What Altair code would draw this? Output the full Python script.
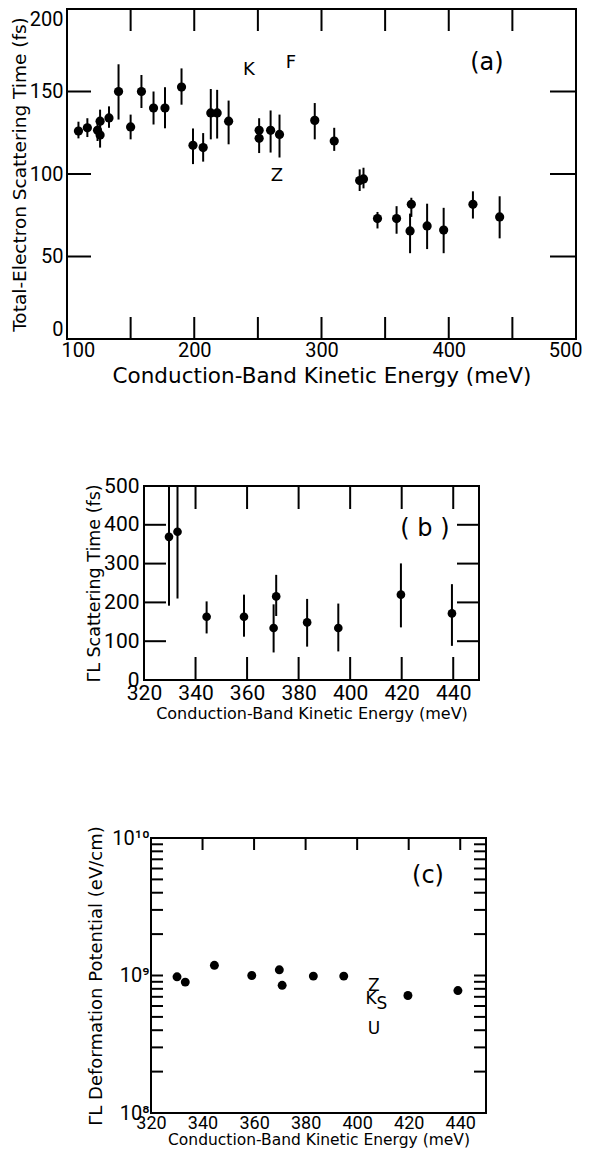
import altair as alt
import pandas as pd

# ---------------- data ----------------
# (a) total-electron scattering time vs conduction-band kinetic energy
a_energy = [109, 116, 124, 126, 126, 133, 140.5, 150, 158.5, 168, 177, 190, 199, 207, 213,
            218, 227, 251, 251, 260, 267, 294.7, 310, 330, 333, 344, 359, 370.6, 369.6,
            383, 396, 419, 440]
a_tau = [126, 128, 126.5, 123.6, 132, 134, 150, 128.5, 150, 140, 140, 152.7, 117.4, 116, 137,
         137, 132, 126.5, 121.6, 126.5, 124, 132.5, 120, 96, 97, 73, 73, 81.6, 65.5,
         68.5, 66, 81.6, 74]
a_lo = [121.6, 122.4, 120, 116, 126, 128, 133, 121, 140, 130, 127.7, 142, 106, 107.5, 121,
        121.5, 118, 120, 112.7, 113, 110, 121, 114, 89.7, 91.3, 67, 63.8, 74, 52,
        54.5, 52, 73, 61]
a_hi = [131.7, 133.8, 132, 130, 139, 141, 166.5, 136, 160, 150, 152.6, 164, 127.6, 124.8, 151.5,
        151, 144.5, 133.8, 127, 138.5, 136, 143, 128, 102.8, 103.8, 77, 80.5, 85.6, 76,
        82, 79.5, 89.5, 86.5]
a_note_text = ["K", "F", "Z"]
a_note_x = [243, 276, 265]
a_note_y = [163, 167, 99]
a_tag = ["(a)"]
a_tag_x = [430]
a_tag_y = [167]

# (b) Gamma-L scattering time
b_energy = [329.7, 333, 344.3, 358.8, 370.3, 371.3, 383.3, 395.4, 419.7, 439.5]
b_tau = [369, 382, 163, 163, 134, 215.5, 148.5, 134, 220, 171.6]
b_lo = [191.5, 210, 120, 111.6, 71, 165, 86, 73.7, 135.6, 88]
b_hi = [500, 500, 202.6, 220, 195, 271, 209, 197, 300.5, 247]
b_tag = ["( b )"]
b_tag_x = [429]
b_tag_y = [389]

# (c) Gamma-L deformation potential
c_energy = [330.1, 333.3, 344.6, 359.1, 369.8, 370.9, 383, 394.8, 419.7, 439.1]
c_pot = [0.978e9, 0.895e9, 1.186e9, 1.0e9, 1.1e9, 0.848e9, 0.99e9, 0.99e9, 0.715e9, 0.777e9]
c_note_text = ["Z", "K", "S", "U"]
c_note_x = [406.5, 405.4, 409.6, 406.5]
c_note_y = [0.838e9, 0.673e9, 0.62e9, 0.405e9]
c_tag = ["(c)"]
c_tag_x = [427.5]
c_tag_y = [5.3e9]

# tick values
a_x_ticks = [100, 150, 200, 250, 300, 350, 400, 450, 500]
a_y_ticks = [0, 50, 100, 150, 200]
bc_x_ticks = [320, 340, 360, 380, 400, 420, 440]
b_y_ticks = [0, 100, 200, 300, 400, 500]
c_y_ticks = [m * 10 ** e for e in (8, 9) for m in range(1, 10)] + [1e10]
c_y_ticks = [float(v) for v in c_y_ticks]

LABEL_FONT = "Liberation Sans Narrow, Roboto, sans-serif"
TITLE_FONT = "DejaVu Sans"
TXT_FONT = "DejaVu Sans"


def ax(orient, **kw):
    d = dict(orient=orient, grid=False, domain=False, ticks=False,
             labelFont=LABEL_FONT, labelFontSize=20, labelColor="black",
             titleFont=TITLE_FONT, titleColor="black", titleFontWeight="normal")
    d.update(kw)
    return alt.Axis(**d)


def frame_and_ticks(xs, ys, xt, yt, x0, y0, w, h, top, bottom, left, right):
    """Plot frame plus inward tick marks, positioned by the panel scales."""
    rule = dict(color="black", strokeWidth=2)
    out = [alt.Chart(pd.DataFrame({"z": [0]})).mark_rect(
        fillOpacity=0, stroke="black", strokeWidth=2).encode(
        x=alt.value(x0), x2=alt.value(x0 + w), y=alt.value(y0), y2=alt.value(y0 + h))]
    dx = pd.DataFrame({"t": xt})
    dy = pd.DataFrame({"t": yt})
    if top:
        out.append(alt.Chart(dx).mark_rule(**rule).encode(
            x=alt.X("t:Q", scale=xs, axis=None), y=alt.value(y0), y2=alt.value(y0 + top)))
    if bottom:
        out.append(alt.Chart(dx).mark_rule(**rule).encode(
            x=alt.X("t:Q", scale=xs, axis=None), y=alt.value(y0 + h - bottom), y2=alt.value(y0 + h)))
    if left:
        out.append(alt.Chart(dy).mark_rule(**rule).encode(
            y=alt.Y("t:Q", scale=ys, axis=None), x=alt.value(x0), x2=alt.value(x0 + left)))
    if right:
        out.append(alt.Chart(dy).mark_rule(**rule).encode(
            y=alt.Y("t:Q", scale=ys, axis=None), x=alt.value(x0 + w - right), x2=alt.value(x0 + w)))
    return out


def panel(df_pts, df_bars, notes, tag, xdom, ydom, ylog, xaxis, yaxis, ticks,
          dot, note_size, tag_size, x0, y0, w, h):
    xs = alt.Scale(domain=xdom, range=[x0, x0 + w], nice=False, zero=False)
    if ylog:
        ys = alt.Scale(type="log", domain=ydom, range=[y0 + h, y0], nice=False)
    else:
        ys = alt.Scale(domain=ydom, range=[y0 + h, y0], nice=False, zero=False)
    layers = frame_and_ticks(xs, ys, x0=x0, y0=y0, w=w, h=h, **ticks)
    if df_bars is not None:
        layers.append(alt.Chart(df_bars).mark_rule(color="black", strokeWidth=2).encode(
            x=alt.X("E:Q", scale=xs, axis=None),
            y=alt.Y("lo:Q", scale=ys, axis=None),
            y2="hi:Q",
        ))
    layers.append(alt.Chart(df_pts).mark_circle(size=dot, color="black", opacity=1).encode(
        x=alt.X("E:Q", scale=xs, axis=xaxis),
        y=alt.Y("v:Q", scale=ys, axis=yaxis),
    ))
    if notes is not None:
        layers.append(alt.Chart(notes).mark_text(font=TXT_FONT, fontSize=note_size, color="black").encode(
            x=alt.X("E:Q", scale=xs, axis=None), y=alt.Y("v:Q", scale=ys, axis=None), text="t:N"))
    layers.append(alt.Chart(tag).mark_text(font=TXT_FONT, fontSize=tag_size, color="black").encode(
        x=alt.X("E:Q", scale=xs, axis=None), y=alt.Y("v:Q", scale=ys, axis=None), text="t:N"))
    return alt.layer(*layers).resolve_axis(x="independent", y="independent").properties(
        width=x0 + w, height=y0 + h)


XT = "Conduction-Band Kinetic Energy (meV)"

# ---- panel a
da = pd.DataFrame({"E": a_energy, "v": a_tau, "lo": a_lo, "hi": a_hi})
na = pd.DataFrame({"E": a_note_x, "v": a_note_y, "t": a_note_text})
ta = pd.DataFrame({"E": a_tag_x, "v": a_tag_y, "t": a_tag})
pa = panel(da, da, na, ta, [100, 500], [0, 200], False,
           ax("bottom", values=a_x_ticks, labelExpr="datum.value % 100 == 0 ? datum.label : ''",
              title=XT, titleFontSize=21.5, labelPadding=1, titlePadding=5,
              labelFlush=True, labelFlushOffset=6),
           ax("left", values=a_y_ticks, title="Total-Electron Scattering Time (fs)", titleFontSize=18.5,
              labelPadding=4, titlePadding=0, labelFlush=True),
           dict(xt=a_x_ticks[1:-1], yt=a_y_ticks[1:-1], top=22, bottom=22, left=24, right=26),
           85, 18, 24, 0, 0, 509, 330)

# ---- panel b (plot area inset 77 px from the left edge of panel a)
db = pd.DataFrame({"E": b_energy, "v": b_tau, "lo": b_lo, "hi": b_hi})
tb = pd.DataFrame({"E": b_tag_x, "v": b_tag_y, "t": b_tag})
pb = panel(db, db, None, tb, [320, 450], [0, 500], False,
           ax("bottom", values=bc_x_ticks, title=XT, titleFontSize=16, labelFontSize=21,
              labelPadding=2, titlePadding=2, labelFlush=False),
           ax("left", values=b_y_ticks, title="ΓL Scattering Time (fs)", titleFontSize=17.5,
              labelFontSize=21, labelPadding=5, titlePadding=0, offset=-77),
           dict(xt=bc_x_ticks[1:], yt=b_y_ticks[1:-1], top=23, bottom=23, left=22, right=22),
           75, 18, 24, 77, 0, 335, 194)

# ---- panel c (plot area inset 84 px left, 11 px top)
dc = pd.DataFrame({"E": c_energy, "v": c_pot})
nc = pd.DataFrame({"E": c_note_x, "v": c_note_y, "t": c_note_text})
tc = pd.DataFrame({"E": c_tag_x, "v": c_tag_y, "t": c_tag})
c_lbl = "datum.value == 1e8 ? '10⁸' : datum.value == 1e9 ? '10⁹' : datum.value == 1e10 ? '10¹⁰' : ''"
pc = panel(dc, None, nc, tc, [320, 450], [1e8, 1e10], True,
           ax("bottom", values=bc_x_ticks, title=XT, titleFontSize=15.5, labelFontSize=18,
              labelPadding=1, titlePadding=0, labelFlush=False),
           ax("left", values=c_y_ticks, labelExpr=c_lbl, title="ΓL Deformation Potential (eV/cm)",
              titleFontSize=18, labelPadding=2, titlePadding=6, offset=-84),
           dict(xt=bc_x_ticks[1:], yt=c_y_ticks[1:-1], top=12, bottom=0, left=12, right=12),
           80, 17, 24, 84, 11, 335, 275)

chart = alt.vconcat(pa, pb, pc, spacing=147, bounds="flush").configure_view(stroke=None).properties(
    padding={"left": 2, "top": 0, "right": 0, "bottom": 0}, background="white"
)

chart.save("out.html", embed_options={"renderer": "svg", "actions": False})
